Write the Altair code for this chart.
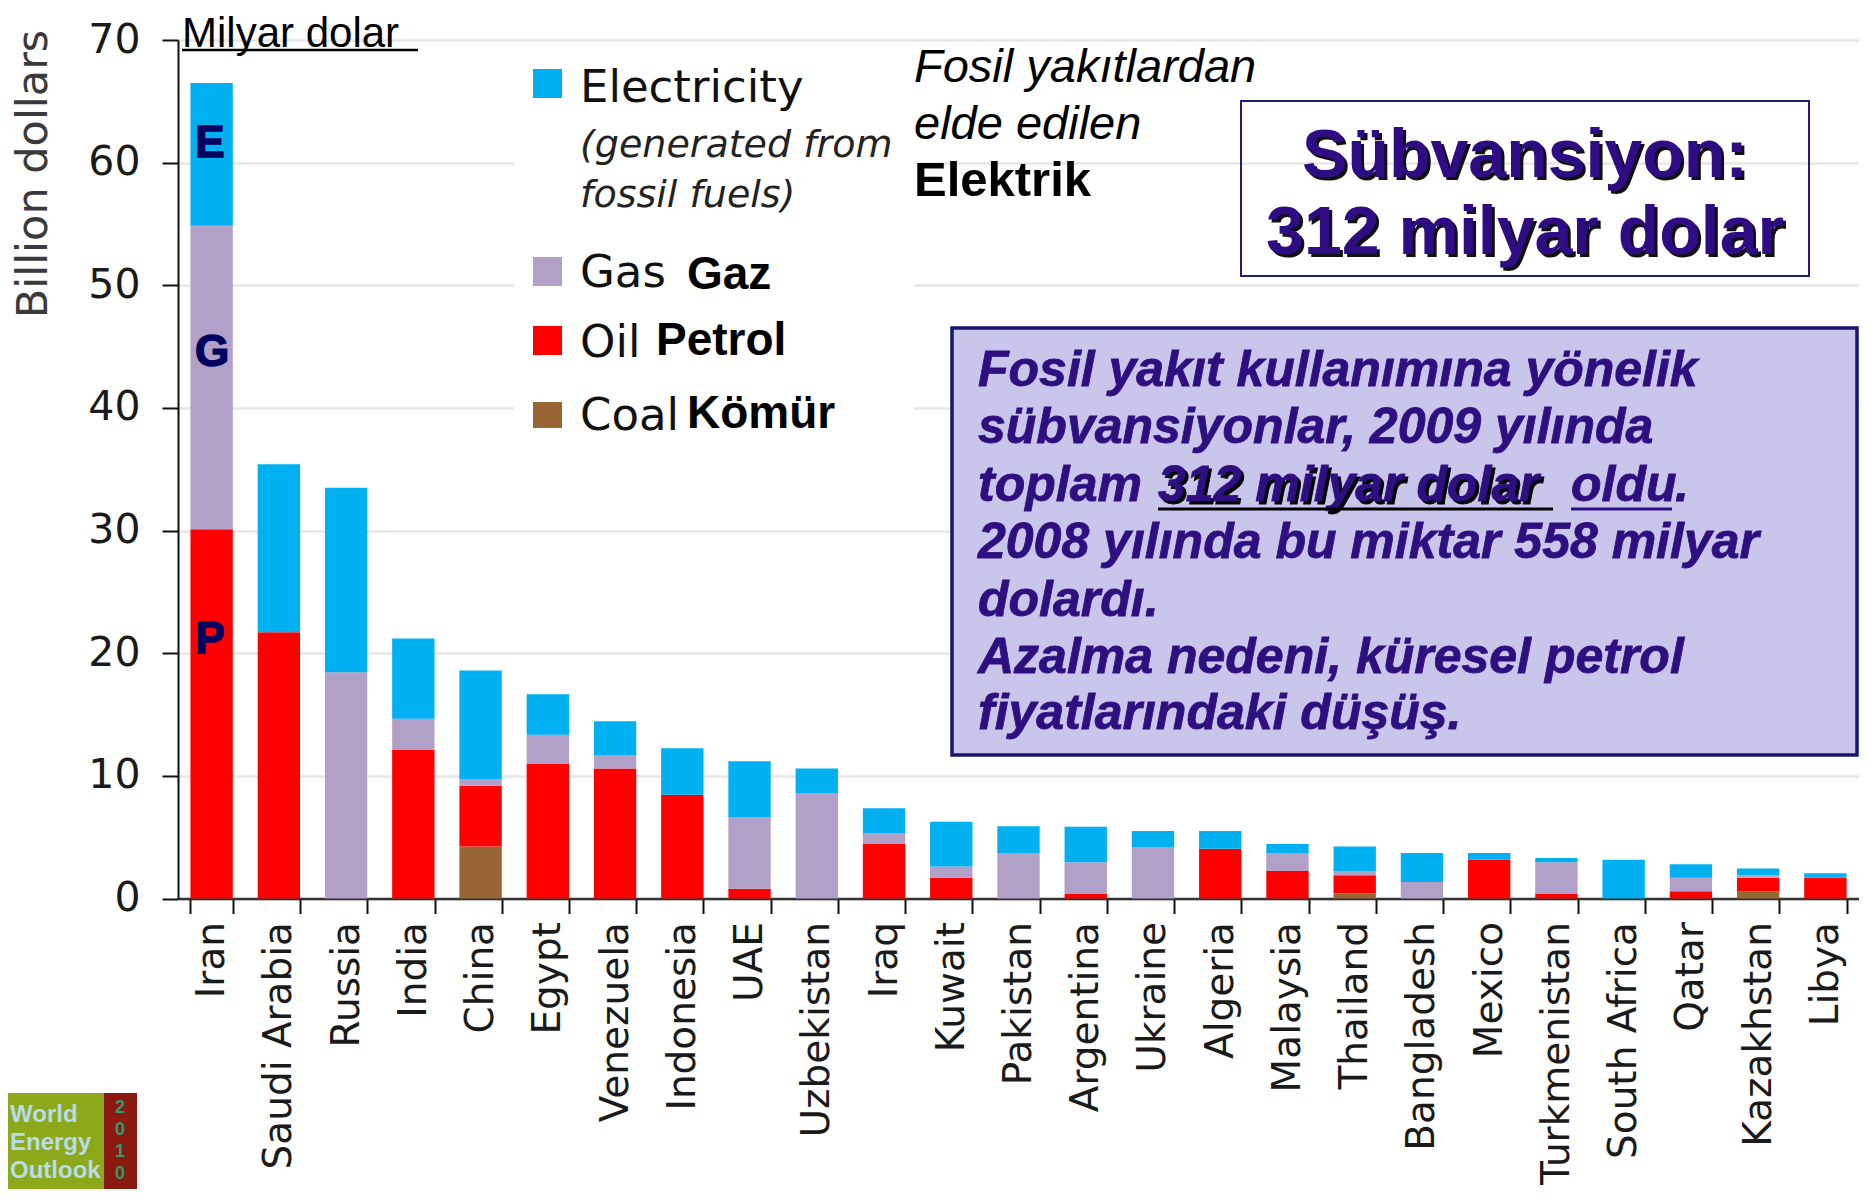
import altair as alt
import pandas as pd

countries = ["Iran", "Saudi Arabia", "Russia", "India", "China", "Egypt", "Venezuela",
             "Indonesia", "UAE", "Uzbekistan", "Iraq", "Kuwait", "Pakistan", "Argentina",
             "Ukraine", "Algeria", "Malaysia", "Thailand", "Bangladesh", "Mexico",
             "Turkmenistan", "South Africa", "Qatar", "Kazakhstan", "Libya"]
coal = [0, 0, 0, 0, 4.25, 0, 0, 0, 0, 0, 0, 0, 0, 0, 0, 0, 0, 0.4, 0, 0, 0, 0, 0, 0.6, 0]
oil = [30.1, 21.7, 0, 12.1, 4.95, 11.0, 10.6, 8.45, 0.8, 0, 4.45, 1.7, 0, 0.4, 0, 4.05,
       2.25, 1.5, 0, 3.15, 0.4, 0, 0.6, 1.1, 1.7]
gas = [24.75, 0, 18.45, 2.55, 0.5, 2.35, 1.1, 0, 5.8, 8.6, 0.85, 0.9, 3.7, 2.55, 4.2, 0,
       1.45, 0.35, 1.35, 0, 2.55, 0, 1.1, 0.2, 0]
elec = [11.65, 13.7, 15.05, 6.55, 8.9, 3.3, 2.75, 3.8, 4.6, 2.0, 2.05, 3.65, 2.2, 2.9, 1.3,
        1.45, 0.75, 2.0, 2.35, 0.55, 0.35, 3.15, 1.1, 0.55, 0.35]
fuels = ["Coal", "Oil", "Gas", "Electricity"]
fuel_colors = ["#996633", "#ff0000", "#b1a0c7", "#00b0f0"]
y_ticks = [0, 10, 20, 30, 40, 50, 60, 70]

rows = []
for i, c in enumerate(countries):
    for rank, (f, series) in enumerate(zip(fuels, [coal, oil, gas, elec])):
        if series[i] > 0:
            rows.append({"country": c, "fuel": f, "value": series[i], "rank": rank})
df = pd.DataFrame(rows)

bars = alt.Chart(df).mark_bar().encode(
    x=alt.X("country:N", sort=countries,
            scale=alt.Scale(paddingInner=0.37, paddingOuter=0.185),
            axis=alt.Axis(title=None, labelAngle=-90, labelFontSize=39, labelFont="DejaVu Sans",
                          labelColor="#1a1a1a", labelLimit=0, tickBand="extent", tickSize=15,
                          tickWidth=2, tickColor="#111", domainColor="#333", domainWidth=2.5,
                          labelPadding=8, grid=False)),
    y=alt.Y("value:Q", stack="zero", scale=alt.Scale(domain=[0, 70], nice=False),
            axis=alt.Axis(title=None, values=y_ticks, labelFontSize=41, labelFont="DejaVu Sans",
                          labelColor="#1a1a1a", tickSize=16, tickWidth=2, tickColor="#111",
                          domainColor="#111", domainWidth=2, labelPadding=22,
                          grid=True, gridColor="#e6e6e6", gridWidth=2.5)),
    color=alt.Color("fuel:N", scale=alt.Scale(domain=fuels, range=fuel_colors), legend=None),
    order=alt.Order("rank:Q"),
)

one = pd.DataFrame({"k": [0]})


def T(text, x, y, size, color="#111", font="DejaVu Sans", weight="normal", style="normal",
      align="left", angle=0, **kw):
    return alt.Chart(one).mark_text(
        text=text, fontSize=size, color=color, font=font, fontWeight=weight,
        fontStyle=style, align=align, baseline="middle", angle=angle, **kw
    ).encode(x=alt.value(x), y=alt.value(y))


def R(x1, x2, y1, y2, fill, stroke=None, sw=0, opacity=1):
    kw = {"fill": fill, "fillOpacity": opacity}
    if stroke:
        kw.update(stroke=stroke, strokeWidth=sw)
    return alt.Chart(one).mark_rect(**kw).encode(
        x=alt.value(x1), x2=alt.value(x2), y=alt.value(y1), y2=alt.value(y2))


def H(x1, x2, y, color, w):
    return alt.Chart(one).mark_rule(color=color, strokeWidth=w).encode(
        x=alt.value(x1), x2=alt.value(x2), y=alt.value(y))


ann = []
# white area behind legend (hides gridlines)
ann.append(R(336, 736, 6, 400, "white"))
# y-axis title
ann.append(T("Billion dollars", -144, 134, 43, color="#3a3a3a", align="center", angle=270))
# Milyar dolar (underlined)
ann.append(T("Milyar dolar", 4, -6, 42, color="#000", font="Liberation Sans"))
ann.append(H(4, 240, 10, "#000", 2.5))

# legend
LB = "Liberation Sans"
ann.append(R(355, 384, 29, 58, "#00b0f0"))
ann.append(T("Electricity", 402, 48, 45))
ann.append(T("(generated from", 402, 106, 38, style="italic", color="#222"))
ann.append(T("fossil fuels)", 402, 156, 38, style="italic", color="#222"))
ann.append(R(355, 384, 217, 246, "#b1a0c7"))
ann.append(T("Gas", 402, 233, 45))
ann.append(T("Gaz", 509, 235, 46, font=LB, weight="bold", color="#000"))
ann.append(R(355, 384, 286, 315, "#ff0000"))
ann.append(T("Oil", 402, 303, 45))
ann.append(T("Petrol", 478, 301, 46, font=LB, weight="bold", color="#000"))
ann.append(R(355, 384, 362, 388, "#996633"))
ann.append(T("Coal", 402, 376, 45))
ann.append(T("Kömür", 509, 374, 46, font=LB, weight="bold", color="#000"))

# Fosil yakıtlardan elde edilen Elektrik
ann.append(T("Fosil yakıtlardan", 736, 28, 47, font=LB, style="italic", color="#000"))
ann.append(T("elde edilen", 736, 85, 47, font=LB, style="italic", color="#000"))
ann.append(T("Elektrik", 736, 141, 49, font=LB, weight="bold", color="#000"))

# Sübvansiyon box
IND = "#2e0c84"
ann.append(R(1063, 1631, 61, 236, "white", stroke="#1e1e78", sw=2, opacity=0))
for line, yy in [("Sübvansiyon:", 117), ("312 milyar dolar", 194)]:
    ann.append(T(line, 1350, yy + 3, 68, font=LB, weight="bold", color="#111", align="center"))
    ann.append(T(line, 1347, yy, 68, font=LB, weight="bold", color=IND, align="center"))

# purple text box
TXT = "#2d0f80"
ann.append(R(774, 1679, 288, 715, "#c9c5eb", stroke="#16166e", sw=3.5))
box_lines = [
    ("Fosil yakıt kullanımına yönelik", 331),
    ("sübvansiyonlar, 2009 yılında", 388),
    ("2008 yılında bu miktar 558 milyar", 503),
    ("dolardı.", 561),
    ("Azalma nedeni, küresel petrol", 618),
    ("fiyatlarındaki düşüş.", 674),
]
BX = dict(font=LB, weight="bold", style="italic", strokeWidth=0.8)
for s, yy in box_lines:
    ann.append(T(s, 800, yy, 50, color=TXT, stroke=TXT, **BX))
ann.append(T("toplam", 800, 446, 50, color=TXT, stroke=TXT, **BX))
ann.append(T("312 milyar dolar", 983, 449, 50, color="#000", stroke="#000", **BX))
ann.append(T("312 milyar dolar", 980, 446, 50, color=TXT, stroke=TXT, **BX))
ann.append(H(980, 1375, 469, "#000", 3))
ann.append(T("oldu", 1393, 446, 50, color=TXT, stroke=TXT, **BX))
ann.append(H(1393, 1494, 469, TXT, 3))
ann.append(T(".", 1497, 446, 50, color=TXT, stroke=TXT, **BX))

# letters on Iran bar
for s, xx, yy in [("E", 32, 104), ("G", 34, 313), ("P", 32, 600)]:
    ann.append(T(s, xx, yy, 44, font=LB, weight="bold", color="#000060", align="center",
                 stroke="#000060", strokeWidth=1.5))

# World Energy Outlook logo (bottom-left)
ann.append(R(-170, -41, 1053, 1150, "#8ea81c"))
ann.append(R(-74, -41, 1053, 1150, "#8a1a10"))
ann.append(T("World", -168, 1075, 24, font=LB, weight="bold", color="#b8dce8"))
ann.append(T("Energy", -168, 1103, 24, font=LB, weight="bold", color="#b8dce8"))
ann.append(T("Outlook", -168, 1131, 24, font=LB, weight="bold", color="#b8dce8"))
for d, yy in [("2", 1068), ("0", 1090), ("1", 1112), ("0", 1134)]:
    ann.append(T(d, -58, yy, 18, font=LB, weight="bold", color="#2e9a6e", align="center"))

chart = alt.layer(bars, *ann).properties(
    width=1681, height=858.5,
    autosize=alt.AutoSizeParams(type="none"),
    padding={"left": 170, "top": 32, "right": 0, "bottom": 290},
    background="white",
).configure_view(stroke=None)

chart.save("out.html", embed_options={"renderer": "svg", "actions": False})
